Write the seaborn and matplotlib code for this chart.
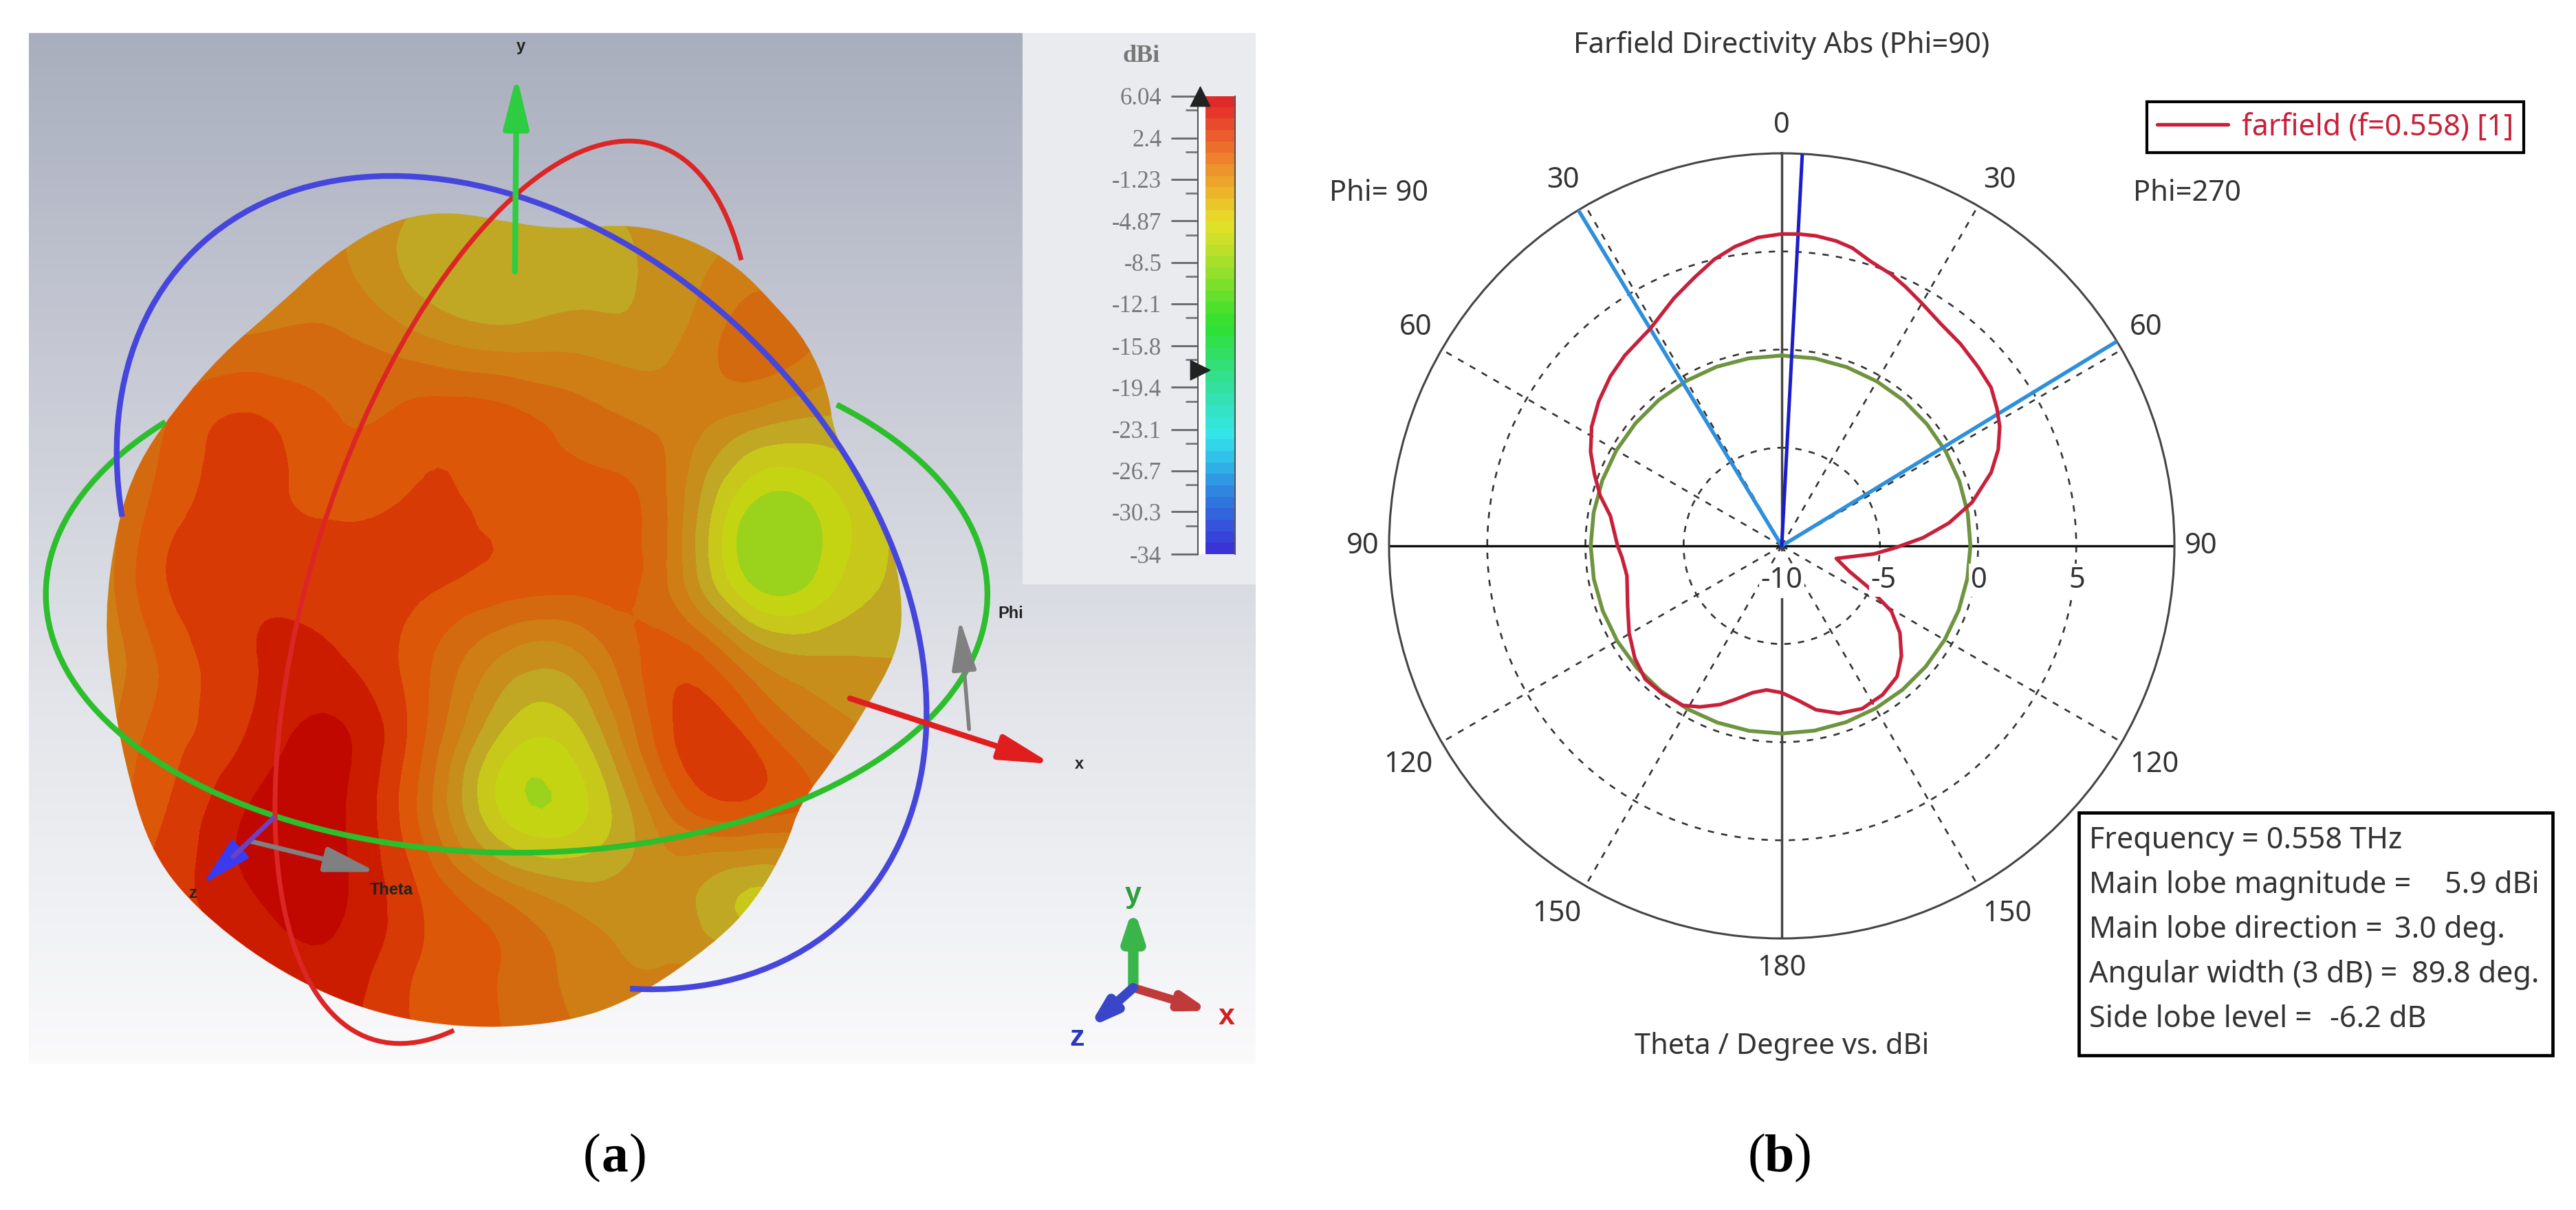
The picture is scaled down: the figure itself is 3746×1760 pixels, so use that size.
# farfield pattern figure: (a) 3D directivity view, (b) polar cut at Phi=90

import numpy as np
import matplotlib
matplotlib.use("Agg")
import matplotlib.pyplot as plt
import matplotlib.tri as mtri
from matplotlib.colors import LinearSegmentedColormap
from matplotlib.patches import Arc, FancyArrowPatch, PathPatch, Rectangle
from matplotlib.path import Path
import seaborn as sns

sns.set_theme(style="white")
plt.rcParams["font.family"] = ["Noto Sans", "DejaVu Sans"]

W, H = 3746, 1760

# ------------------------------------------
# polar cut data
# ------------------------------------------

farfield_theta = [3.1, 6.3, 10.1, 13.3, 17.4, 21.9, 25.5, 29.9, 35.5, 41.5, 47.7, 52.9, 57.4,
                  61.3, 66, 70.7, 77.1, 82.2, 86.7, 91.2, 95, 103, 110.6, 115.5, 120.8, 126.4,
                  132.6, 138.6, 145.9, 153.7, 161.1, 168.2, 173.8, 180, 186, 191.3, 197, 201.2,
                  206.9, 211.8, 218.9, 225.7, 232.6, 240.3, 248.8, 259.1, 265.9, 270, 279.9,
                  285.5, 290.8, 296.2, 302.1, 308.3, 314.7, 320.5, 329, 336.5, 342, 346.8,
                  351.1, 355.6, 360, 363.1]
farfield_db = [5.91, 5.89, 5.78, 5.6, 5.18, 4.92, 4.63, 4.28, 3.92, 3.74, 3.53, 3.37, 3.01,
               2.66, 2.07, 1.3, -0.05, -1.4, -2.79, -4.28, -5.29, -7.15, -6.33, -5.13, -3.5, -2.52,
               -1.72, -1.12, -0.84, -0.75, -0.98, -1.47, -2.07, -2.52, -2.62, -2.37, -1.81, -1.33,
               -0.8, -0.44, -0.32, -0.28, -0.58, -1.05, -1.58, -1.97, -1.84, -1.64, -1.14,
               -0.4, 0.2, 0.85, 1.43, 1.88, 2.28, 2.57, 2.95, 3.76, 4.38, 5.0,
               5.43, 5.76, 5.89, 5.91]

circle_theta = list(range(0, 370, 10))
circle_db = [-0.30, -0.30, -0.31, -0.32, -0.33, -0.35, -0.36, -0.37, -0.38, -0.39,
             -0.40, -0.41, -0.42, -0.43, -0.43, -0.44, -0.44, -0.44, -0.44, -0.43,
             -0.42, -0.40, -0.38, -0.35, -0.32, -0.30, -0.28, -0.27, -0.27, -0.27,
             -0.27, -0.28, -0.28, -0.29, -0.29, -0.30, -0.30]

main_lobe_theta = 3.0
width_theta = [-31.2, 58.6]
r_min, r_max = -10, 10

# ------------------------------------------
# colour scale data
# ------------------------------------------

scale_ticks = [6.04, 2.4, -1.23, -4.87, -8.5, -12.1, -15.8, -19.4, -23.1, -26.7, -30.3, -34]
scale_labels = ["6.04", "2.4", "-1.23", "-4.87", "-8.5", "-12.1", "-15.8", "-19.4",
                "-23.1", "-26.7", "-30.3", "-34"]
scale_colors = ["#3A34D8", "#2F7FE0", "#33E6EE", "#35E0A0", "#2FE02F", "#B8E02A",
                "#E8E028", "#EE8A2C", "#E83A2C", "#E02A2A"]
scale_stops = [0.0, 0.12, 0.25, 0.36, 0.50, 0.66, 0.73, 0.86, 0.97, 1.0]

# ------------------------------------------
# 3D view data (scene units, 1568 x 1568 over the left part of the figure)
# ------------------------------------------

blob_x = [540, 620, 680, 760, 830, 885, 930, 970, 995, 1000, 1030, 1070, 1085, 1075, 1040,
          1000, 960, 944, 905, 856, 760, 672, 554, 436, 326, 230, 178, 149, 135, 125,
          140, 165, 210, 265, 330, 400, 470]
blob_y = [273, 290, 297, 290, 310, 345, 395, 445, 510, 560, 620, 700, 790, 850, 917,
          985, 1041, 1097, 1170, 1224, 1296, 1327, 1333, 1310, 1254, 1173, 1097, 985, 900, 800,
          680, 600, 530, 460, 400, 330, 285]

grid_x = [100, 200, 300, 400, 500, 600, 700, 800, 900, 1000, 1100]
grid_y = [250, 350, 450, 550, 650, 750, 850, 950, 1050, 1150, 1250, 1350]
grid_db = [
    [1.0, 1.0, 1.0, 0.8, -0.2, -0.3, -0.3, 0.4, 0.8, 1.0, 1.0],
    [1.0, 1.0, 1.0, 0.8, -0.8, -1.3, -1.0, -0.1, 1.0, 1.5, 1.0],
    [1.0, 1.5, 1.8, 1.8, 1.0, 0.3, 0.3, 0.3, 2.0, 1.2, 1.0],
    [0.5, 2.5, 3.7, 2.6, 3.0, 3.0, 2.0, 1.2, -0.2, -0.8, -0.5],
    [-0.2, 3.0, 3.8, 3.2, 3.6, 3.2, 3.0, 1.5, -3.4, -2.8, -1.0],
    [-0.2, 3.5, 4.2, 4.2, 3.8, 3.2, 3.0, 1.5, -3.7, -2.8, -1.0],
    [-0.2, 2.8, 4.4, 4.6, 3.0, 0.5, 0.5, 3.0, 0.5, -0.5, -0.5],
    [0.5, 3.0, 4.6, 5.7, 3.0, -1.5, -1.5, 3.2, 3.2, 1.0, 0.5],
    [1.5, 3.5, 5.6, 5.8, 2.5, -2.6, -2.7, 1.5, 3.0, 2.0, 1.0],
    [2.0, 4.0, 5.5, 5.8, 3.5, 1.0, -0.3, 0.0, -1.5, 0.0, 1.0],
    [3.0, 4.0, 4.5, 5.2, 3.5, 2.5, 1.0, 0.5, 0.0, 0.5, 1.0],
    [3.0, 4.0, 4.5, 5.0, 3.5, 2.5, 1.5, 1.0, 0.5, 0.5, 1.0],
]
band_levels = [-10, -3.5, -2.5, -1.5, -0.5, 0.5, 1.5, 2.5, 3.5, 4.5, 5.5, 7]
band_colors = ["#9AD21C", "#C4D412", "#C8C81A", "#C0A824", "#C88E1C", "#CE7E14", "#D46A0F",
               "#DC5808", "#D83A05", "#CC1C00", "#C00800"]


def smooth_path(x, y):
    # quadratic pieces through the midpoints, so the outline has no corners
    pts = np.column_stack([x, y]).astype(float)
    n = len(pts)
    verts = [(pts[-1] + pts[0]) / 2]
    codes = [Path.MOVETO]
    for i in range(n):
        verts += [pts[i], (pts[i] + pts[(i + 1) % n]) / 2]
        codes += [Path.CURVE3, Path.CURVE3]
    return Path(verts, codes)


def arrow(ax, start, end, color, lw=5, head_len=45, head_wid=11, z=6):
    ax.add_patch(FancyArrowPatch(start, end, arrowstyle=f"-|>,head_length={head_len},head_width={head_wid}",
                                 mutation_scale=1, color=color, lw=lw, shrinkA=0, shrinkB=0,
                                 zorder=z))


fig = plt.figure(figsize=(W / 100, H / 100), dpi=100, facecolor="white")

# ------------------------------------------
# (a) 3D view
# ------------------------------------------

scene = fig.add_axes([0, 0, 1900 / W, 1])

backdrop = LinearSegmentedColormap.from_list("backdrop", ["#A9AEBE", "#C8CBD5", "#E4E6EB", "#FAFAFB"])
scene.imshow(np.linspace(0, 1, 256).reshape(-1, 1), cmap=backdrop, aspect="auto",
             extent=[35, 1507, 1378, 43], zorder=0)
scene.set_xlim(0, 1568)
scene.set_ylim(1568, 0)
scene.axis("off")
scene.add_patch(Rectangle((1227, 43), 280, 714, fc="#E9EBEE", ec="none", zorder=1))

gx, gy = np.meshgrid(grid_x, grid_y)
tri = mtri.Triangulation(gx.ravel(), gy.ravel())
fine_tri, fine_db = mtri.UniformTriRefiner(tri).refine_field(np.array(grid_db).ravel(), subdiv=3)
bands = scene.tricontourf(fine_tri, fine_db, levels=band_levels, colors=band_colors, zorder=2)
blob = PathPatch(smooth_path(blob_x, blob_y), fc="none", ec="none", zorder=2.5)
scene.add_patch(blob)
bands.set_clip_path(blob)

# the three great circles, seen as ellipses
scene.add_patch(Arc((620, 770), 1130, 670, angle=0, theta1=-32.6, theta2=207.9, color="#2CBE2C", lw=6, zorder=4))
scene.add_patch(Arc((626, 755), 1169, 830, angle=52.1, theta1=138, theta2=384, color="#4646DC", lw=6, zorder=4))
scene.add_patch(Arc((617.5, 767.5), 1208, 489, angle=-74.1, theta1=-188.6, theta2=16.4, color="#DC2626", lw=5, zorder=4))

arrow(scene, (618, 352), (620, 98), "#2ECC40", lw=6)
arrow(scene, (1020, 905), (1262, 990), "#E01E1E", lw=6)
arrow(scene, (1163, 945), (1152, 803), "#808080", lw=4)
arrow(scene, (300, 1090), (452, 1130), "#808080", lw=5)
arrow(scene, (328, 1060), (243, 1146), "#3A3AF0", lw=4)
scene.plot([328, 280], [1060, 1110], color="#7040C0", lw=5, zorder=6.5)
arrow(scene, (1360, 1280), (1360, 1175), "#39B54A", lw=11, head_len=24, head_wid=8)
arrow(scene, (1360, 1280), (1452, 1310), "#C03A3A", lw=9, head_len=22, head_wid=7)
arrow(scene, (1360, 1280), (1306, 1332), "#3A46C8", lw=10, head_len=22, head_wid=7)

for x, y, s in [(625, 60, "y"), (1295, 990, "x"), (1213, 795, "Phi"), (470, 1153, "Theta"), (232, 1158, "z")]:
    scene.text(x, y, s, fontsize=17, family="Liberation Sans", fontweight="bold", color="#222222",
               ha="center", va="center", zorder=7)
for x, y, s, col in [(1360, 1160, "y", "#2E9E3C"), (1472, 1318, "x", "#D02020"), (1292, 1345, "z", "#2A38C0")]:
    scene.text(x, y, s, fontsize=31, family="Liberation Sans", fontweight="bold", color=col,
               ha="center", va="center", zorder=7)

# colour scale
cax = fig.add_axes([1742 / W, 1 - 806 / H, 54 / W, 666 / H])
scale_map = LinearSegmentedColormap.from_list("scale", list(zip(scale_stops, scale_colors)), N=40)
cax.imshow(np.linspace(0, 1, 40).reshape(-1, 1), cmap=scale_map, origin="lower", aspect="auto",
           extent=[0, 1, min(scale_ticks), max(scale_ticks)])
cax.set_xticks([])
cax.set_yticks(scale_ticks)
cax.set_yticklabels(scale_labels, family="Liberation Serif", fontsize=25, color="#777777")
cax.set_yticks(np.array(scale_ticks[:-1]) + np.diff(scale_ticks) / 3, minor=True)
cax.tick_params(axis="y", which="major", left=True, length=28, width=2, color="#666666", pad=10)
cax.tick_params(axis="y", which="minor", left=True, length=13, width=2, color="#777777")
for side in cax.spines.values():
    side.set_color("#555555")
    side.set_linewidth(1.5)
cax.spines["top"].set_visible(False)
cax.spines["bottom"].set_visible(False)
cax.scatter([-0.2], [max(scale_ticks)], marker="^", s=420, color="#222222", clip_on=False, zorder=5)
cax.scatter([-0.2], [-17.9], marker=">", s=420, color="#222222", clip_on=False, zorder=5)

# ------------------------------------------
# (b) polar cut
# ------------------------------------------

cx, cy, radius = 2591, 794, 571
ax = fig.add_axes([(cx - radius) / W, 1 - (cy + radius) / H, 2 * radius / W, 2 * radius / H],
                  projection="polar")
ax.set_theta_zero_location("N")
ax.set_theta_direction(-1)

sns.lineplot(x=np.deg2rad(circle_theta), y=circle_db, sort=False, estimator=None, color="#6F9440",
             lw=4, ax=ax, zorder=3)
for angle in width_theta:
    ax.plot(np.deg2rad([angle, angle]), [r_min, r_max], color="#2E90DC", lw=4, zorder=4)
ax.plot(np.deg2rad([main_lobe_theta, main_lobe_theta]), [r_min, r_max], color="#1C1CC8", lw=3.6, zorder=4)
sns.lineplot(x=np.deg2rad(farfield_theta), y=farfield_db, sort=False, estimator=None, color="#C8203A",
             lw=3.8, ax=ax, zorder=5, label="farfield (f=0.558) [1]")

for angle, col in [(0, "#444444"), (90, "#111111"), (180, "#444444"), (270, "#111111")]:
    ax.plot(np.deg2rad([angle, angle]), [r_min, r_max], color=col, lw=2.5, zorder=2)

ax.set_ylim(r_min, r_max)
ax.set_yticks([-5, 0, 5])
ax.set_xticks(np.deg2rad(np.arange(0, 360, 30)))
ax.set_xticklabels([])
ax.set_yticklabels([])
ax.set_xlabel("")
ax.set_ylabel("")
ax.grid(True, color="#333333", lw=1.9, linestyle=(0, (3.5, 4)))
ax.spines["polar"].set_color("#444444")
ax.spines["polar"].set_linewidth(2.2)

ax.legend(loc="center", bbox_to_anchor=(3396 / W, 1 - 185 / H), bbox_transform=fig.transFigure,
          fontsize=31, labelcolor="#C8203A", fancybox=False, framealpha=1, edgecolor="black",
          handlelength=2.4, borderpad=0.35, handletextpad=0.45,
          borderaxespad=0).get_frame().set_linewidth(3)

# ------------------------------------------
# texts in figure pixels
# ------------------------------------------

ov = fig.add_axes([0, 0, 1, 1], facecolor="none")
ov.set_xlim(0, W)
ov.set_ylim(H, 0)
ov.axis("off")

text_col = "#333333"
angle_labels = [(2591, 182, "0"), (2273, 262, "30"), (2908, 262, "30"), (2059, 476, "60"), (3121, 476, "60"),
                (1982, 794, "90"), (3201, 794, "90"), (2048, 1112, "120"), (3133, 1112, "120"),
                (2264, 1329, "150"), (2919, 1329, "150"), (2591, 1408, "180"),
                (2005, 281, "Phi= 90"), (3180, 281, "Phi=270"),
                (2591, 66, "Farfield Directivity Abs (Phi=90)"), (2591, 1522, "Theta / Degree vs. dBi")]
for x, y, s in angle_labels:
    ov.text(x, y, s, fontsize=30, color=text_col, ha="center", va="center")

ov.add_patch(Rectangle((2582, 802), 18, 68, fc="white", ec="none", zorder=1))
for x, s in [(2591, "-10"), (2739, "-5"), (2878, "0"), (3020, "5")]:
    ov.text(x, 844, s, fontsize=30, color=text_col, ha="center", va="center", zorder=2,
            bbox=dict(fc="white", ec="none", pad=2))

ov.add_patch(Rectangle((3023, 1182), 689, 353, fc="white", ec="black", lw=3.4, zorder=2))
info_rows = [(1223, "Frequency = 0.558 THz", "", 0),
             (1288, "Main lobe magnitude =", "5.9 dBi", 3693),
             (1353, "Main lobe direction =", "3.0 deg.", 3643),
             (1418, "Angular width (3 dB) =", "89.8 deg.", 3693),
             (1483, "Side lobe level =", "-6.2 dB", 3529)]
for y, left, right, xr in info_rows:
    ov.text(3038, y, left, fontsize=31, color=text_col, va="center", zorder=3)
    if right:
        ov.text(xr, y, right, fontsize=31, color=text_col, ha="right", va="center", zorder=3)

ov.text(1660, 82, "dBi", fontsize=26, family="Liberation Serif", fontweight="bold", color="#777777",
        ha="center", va="center")

serif = "Liberation Serif"
for x0, label in [(894, "a"), (2588, "b")]:
    ov.text(x0 - 33, 1703, "(", fontsize=56, family=serif, ha="center", va="baseline", color="black")
    ov.text(x0, 1703, label, fontsize=56, family=serif, fontweight="bold", ha="center", va="baseline", color="black")
    ov.text(x0 + 33, 1703, ")", fontsize=56, family=serif, ha="center", va="baseline", color="black")

fig.savefig("out.png", dpi=100)
